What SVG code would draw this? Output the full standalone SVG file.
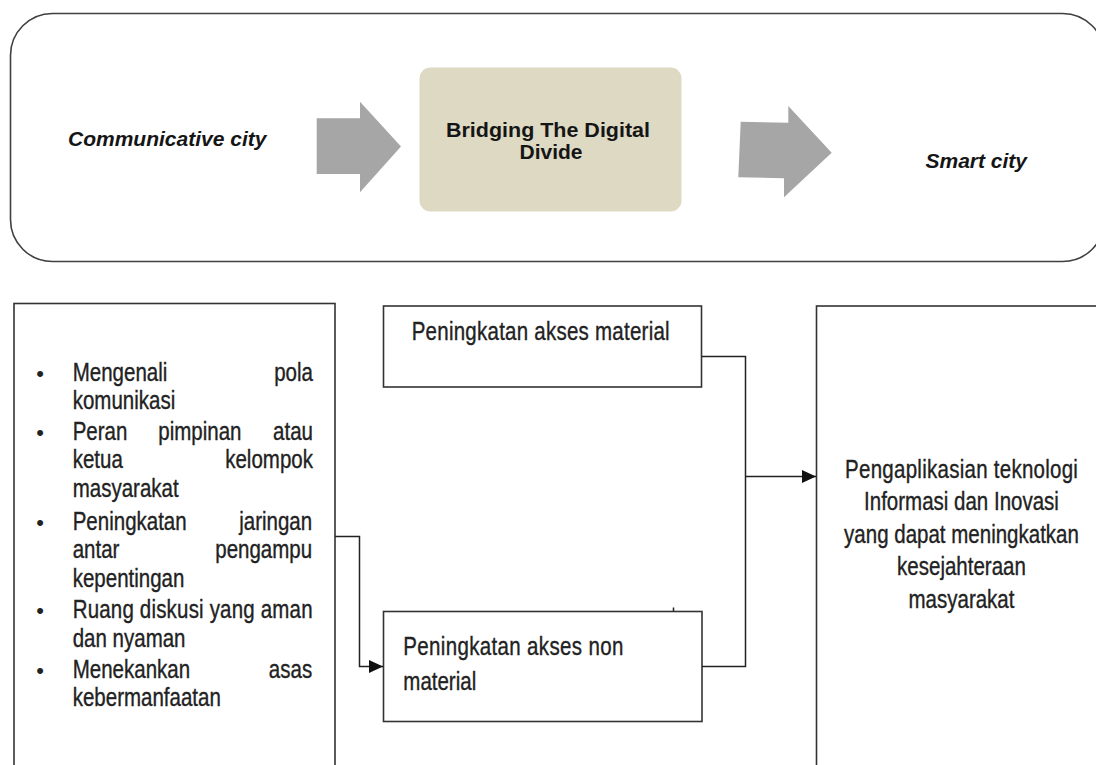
<svg xmlns="http://www.w3.org/2000/svg" width="1096" height="765" viewBox="0 0 1096 765">
<style>
.frame{fill:#fff;stroke:#404040;stroke-width:1.6}
.box{fill:#fff;stroke:#333;stroke-width:1.6}
.big{fill:#A6A6A6;stroke:none}
.tb{font-family:"Liberation Sans",Arial,sans-serif;font-size:21px;font-weight:bold;fill:#151515}
.tbi{font-family:"Liberation Sans",Arial,sans-serif;font-size:21px;font-weight:bold;font-style:italic;fill:#151515}
.t{font-family:"Liberation Sans",Arial,sans-serif;font-size:25px;fill:#222;stroke:#222;stroke-width:0.35}
.bul{font-family:"Liberation Sans",Arial,sans-serif;font-size:22px;fill:#222}
.conn{fill:none;stroke:#222;stroke-width:1.5}
</style>
<defs>
<marker id="ah" viewBox="0 0 14 13" refX="14" refY="6.5" markerWidth="14" markerHeight="13" markerUnits="userSpaceOnUse" orient="auto">
<path d="M0,0 L14,6.5 L0,13 z" fill="#111"/>
</marker>
</defs>
<rect width="1096" height="765" fill="#fff"/>

<g id="top-frame">
<rect class="frame" x="10.5" y="13.5" width="1094" height="248" rx="42" ry="42"/>
</g>

<g id="node-communicative">
<text class="tbi" x="68" y="146">Communicative city</text>
</g>

<g id="arrow-big-1">
<polygon class="big" points="316.7,118.3 360,118.3 360,101.7 401,146.5 360,192.3 360,174 316.7,174"/>
</g>

<g id="node-bridging">
<rect x="419.5" y="67.5" width="262" height="144" rx="11" ry="11" fill="#DDD9C3"/>
<text class="tb" text-anchor="middle" x="548" y="137" textLength="204" lengthAdjust="spacingAndGlyphs">Bridging The Digital</text>
<text class="tb" text-anchor="middle" x="551" y="159">Divide</text>
</g>

<g id="arrow-big-2">
<polygon class="big" points="740.7,121.7 788.3,122.7 788.3,106 831.7,152.7 784,197.3 784,178.3 738.3,177.3"/>
</g>

<g id="node-smart">
<text class="tbi" x="925.5" y="168">Smart city</text>
</g>

<g id="node-left">
<rect class="box" x="14" y="303.5" width="321" height="500"/>
<text class="bul" x="40" y="381" text-anchor="middle">•</text>
<text class="bul" x="40" y="440" text-anchor="middle">•</text>
<text class="bul" x="40" y="530" text-anchor="middle">•</text>
<text class="bul" x="40" y="618" text-anchor="middle">•</text>
<text class="bul" x="40" y="678" text-anchor="middle">•</text>
<g transform="translate(72.7 0) scale(0.82 1)">
<text class="t" x="0" y="381">Mengenali</text>
<text class="t" x="293" y="381" text-anchor="end">pola</text>
<text class="t" x="0" y="409">komunikasi</text>
<text class="t" x="0" y="440">Peran</text>
<text class="t" x="104.4" y="440">pimpinan</text>
<text class="t" x="293" y="440" text-anchor="end">atau</text>
<text class="t" x="0" y="468">ketua</text>
<text class="t" x="293" y="468" text-anchor="end">kelompok</text>
<text class="t" x="0" y="497">masyarakat</text>
<text class="t" x="0" y="530">Peningkatan</text>
<text class="t" x="292" y="530" text-anchor="end">jaringan</text>
<text class="t" x="0" y="558">antar</text>
<text class="t" x="292" y="558" text-anchor="end">pengampu</text>
<text class="t" x="0" y="587">kepentingan</text>
<text class="t" x="0" y="618" textLength="292.5" lengthAdjust="spacing">Ruang diskusi yang aman</text>
<text class="t" x="0" y="647">dan nyaman</text>
<text class="t" x="0" y="678">Menekankan</text>
<text class="t" x="292" y="678" text-anchor="end">asas</text>
<text class="t" x="0" y="706">kebermanfaatan</text>
</g>
</g>

<g id="node-material">
<rect class="box" x="383.5" y="306" width="318" height="81"/>
<g transform="translate(411.7 0) scale(0.82 1)">
<text class="t" x="0" y="340" textLength="314.6" lengthAdjust="spacing">Peningkatan akses material</text>
</g>
</g>

<g id="node-nonmaterial">
<rect class="box" x="383.5" y="611.5" width="318.5" height="110"/>
<g transform="translate(403.3 0) scale(0.82 1)">
<text class="t" x="0" y="655" textLength="268.3" lengthAdjust="spacing">Peningkatan akses non</text>
<text class="t" x="0" y="690">material</text>
</g>
</g>

<g id="node-result">
<rect class="box" x="816.5" y="306" width="300" height="500"/>
<g transform="translate(961.5 0) scale(0.82 1)">
<text class="t" x="0" y="478" text-anchor="middle" textLength="284" lengthAdjust="spacing">Pengaplikasian teknologi</text>
<text class="t" x="0" y="510.5" text-anchor="middle">Informasi dan Inovasi</text>
<text class="t" x="0" y="543" text-anchor="middle">yang dapat meningkatkan</text>
<text class="t" x="0" y="575.5" text-anchor="middle">kesejahteraan</text>
<text class="t" x="0" y="608.5" text-anchor="middle">masyarakat</text>
</g>
</g>

<g id="connectors">
<path class="conn" d="M335,536.5 H359.5 V666.5 H383" marker-end="url(#ah)"/>
<path class="conn" d="M702,356.5 H745.5 V666.5 H702"/>
<path class="conn" d="M745.5,476.5 H816" marker-end="url(#ah)"/>
<path class="conn" d="M673.5,607.5 V611" stroke-width="1"/>
</g>
</svg>
